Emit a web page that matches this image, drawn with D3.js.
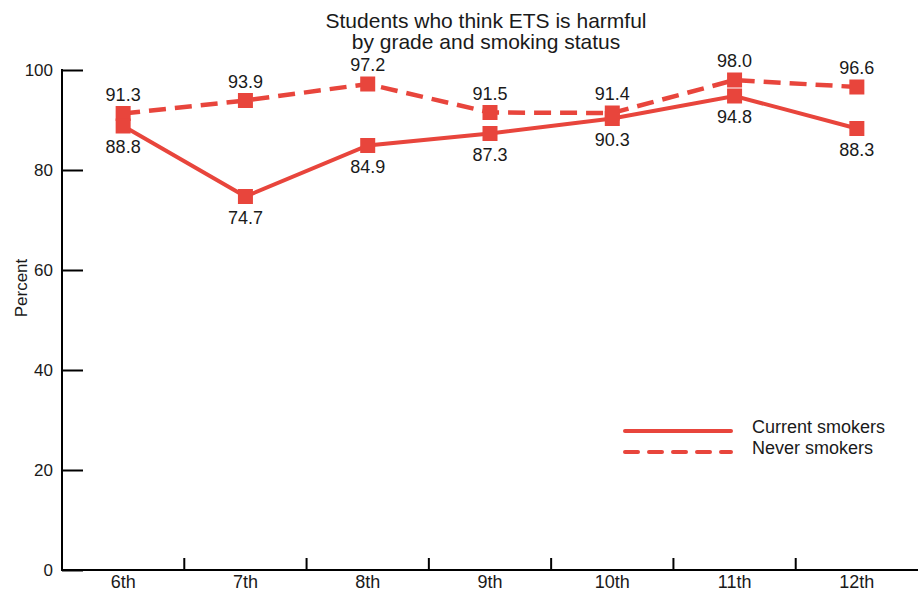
<!DOCTYPE html>
<html>
<head>
<meta charset="utf-8">
<script src="https://cdn.jsdelivr.net/npm/d3@7"></script>
<style>
  body { margin: 0; background: #fff; }
  svg { display: block; }
  text { font-family: "Liberation Sans", Arial, sans-serif; fill: #1a1a1a; }
  .title { font-size: 21px; }
</style>
</head>
<body>
<svg id="chart" width="918" height="593"></svg>
<script>
// Share of students who think ETS is harmful, by grade
const grades = ["6th", "7th", "8th", "9th", "10th", "11th", "12th"];
const currentSmokers = [88.8, 74.7, 84.9, 87.3, 90.3, 94.8, 88.3];
const neverSmokers = [91.3, 93.9, 97.2, 91.5, 91.4, 98.0, 96.6];
const yTicks = [0, 20, 40, 60, 80, 100];
const seriesNames = ["Current smokers", "Never smokers"];

const color = "#e8453c";
const svg = d3.select("#chart");

const x = d3.scaleBand().domain(grades).range([62, 918]).paddingInner(0).paddingOuter(0);
const y = d3.scaleLinear().domain([0, 100]).range([570, 70]);

// Title
svg.append("text").attr("class", "title").attr("x", 486).attr("y", 28)
  .attr("text-anchor", "middle").text("Students who think ETS is harmful");
svg.append("text").attr("class", "title").attr("x", 486).attr("y", 49)
  .attr("text-anchor", "middle").text("by grade and smoking status");

// Y axis with inward ticks
const yAxis = svg.append("g").attr("transform", "translate(62,0)")
  .call(d3.axisRight(y).tickValues(yTicks).tickSize(21).tickFormat(""));
yAxis.select(".domain").remove();
yAxis.selectAll(".tick line").attr("stroke", "#000").attr("stroke-width", 2);
svg.append("line").attr("x1", 62).attr("x2", 62).attr("y1", 69).attr("y2", 571)
  .attr("stroke", "#000").attr("stroke-width", 2);
svg.append("g").selectAll("text").data(yTicks).join("text")
  .attr("x", 53).attr("y", d => y(d) + 6).attr("text-anchor", "end")
  .attr("font-size", 17).text(d => d);

svg.append("text").attr("transform", "translate(27,288) rotate(-90)")
  .attr("text-anchor", "middle").attr("font-size", 17).text("Percent");

// X axis: baseline with ticks at category boundaries
svg.append("line").attr("x1", 61).attr("x2", 918).attr("y1", 570).attr("y2", 570)
  .attr("stroke", "#000").attr("stroke-width", 2);
svg.append("g").selectAll("line").data(grades.slice(1)).join("line")
  .attr("x1", d => x(d)).attr("x2", d => x(d))
  .attr("y1", 570).attr("y2", 558)
  .attr("stroke", "#000").attr("stroke-width", 2);
svg.append("g").selectAll("text").data(grades).join("text")
  .attr("x", d => x(d) + x.bandwidth() / 2).attr("y", 588)
  .attr("text-anchor", "middle").attr("font-size", 18).text(d => d);

const cx = d => x(d) + x.bandwidth() / 2;
const line = d3.line().x((v, i) => cx(grades[i])).y(v => y(v));

// Lines
svg.append("path").datum(neverSmokers).attr("d", line)
  .attr("fill", "none").attr("stroke", color).attr("stroke-width", 4.5)
  .attr("stroke-dasharray", "17,9");
svg.append("path").datum(currentSmokers).attr("d", line)
  .attr("fill", "none").attr("stroke", color).attr("stroke-width", 4);

// Square markers
const ms = 15;
[neverSmokers, currentSmokers].forEach(series => {
  svg.append("g").selectAll("rect").data(series).join("rect")
    .attr("x", (v, i) => cx(grades[i]) - ms / 2)
    .attr("y", v => y(v) - ms / 2)
    .attr("width", ms).attr("height", ms).attr("fill", color);
});

// Value labels: never smokers above, current smokers below
svg.append("g").selectAll("text").data(neverSmokers).join("text")
  .attr("x", (v, i) => cx(grades[i])).attr("y", v => y(v) - 13)
  .attr("text-anchor", "middle").attr("font-size", 18).text(v => v.toFixed(1));
svg.append("g").selectAll("text").data(currentSmokers).join("text")
  .attr("x", (v, i) => cx(grades[i])).attr("y", v => y(v) + 27)
  .attr("text-anchor", "middle").attr("font-size", 18).text(v => v.toFixed(1));

// Legend
const legend = svg.append("g");
seriesNames.forEach((name, i) => {
  const ly = 431 + i * 21;
  legend.append("line").attr("x1", 625).attr("x2", 731).attr("y1", ly).attr("y2", ly)
    .attr("stroke", color).attr("stroke-width", 4)
    .attr("stroke-dasharray", i === 1 ? "13,11" : null)
    .attr("stroke-linecap", "round");
  legend.append("text").attr("x", 752).attr("y", ly + 2).attr("font-size", 18).text(name);
});
</script>
</body>
</html>
